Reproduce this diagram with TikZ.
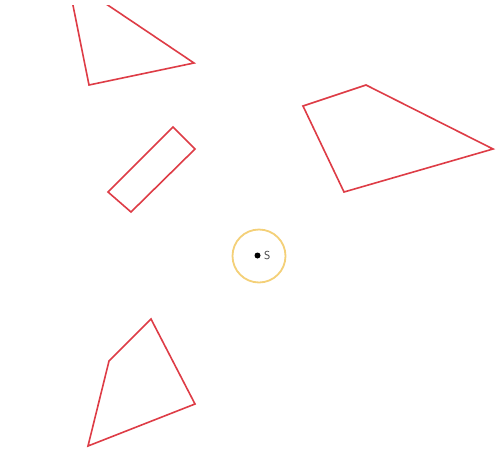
\documentclass[tikz,border=0pt]{standalone}
\usetikzlibrary{calc}
\definecolor{shapered}{RGB}{222,60,70}
\definecolor{ringyellow}{RGB}{244,208,120}
\definecolor{labelgray}{RGB}{60,60,60}
\tikzset{
  poly/.style={draw=shapered, line width=1.6pt, line join=miter},
  ring/.style={draw=ringyellow, line width=1.8pt},
  lab/.style={font=\sffamily\fontsize{11.5}{13}\selectfont, text=labelgray, inner sep=0pt}
}
\begin{document}
\begin{tikzpicture}[x=1pt,y=-1pt]
\useasboundingbox (0,0) rectangle (497,455);
\fill[white] (0,0) rectangle (497,455);
% top-left triangle (apex above the frame)
\coordinate (t1) at (67.5,-22);
\coordinate (t2) at (89,85);
\coordinate (t3) at (194,63);
\begin{scope}
\clip (0,5) rectangle (497,455);
\draw[poly] (t1) -- (t2) -- (t3) -- cycle;
\end{scope}
% rotated rectangle
\coordinate (r1) at (108,192);
\coordinate (r2) at (173,127);
\coordinate (r3) at (195,149);
\coordinate (r4) at (131,212);
\draw[poly] (r1) -- (r2) -- (r3) -- (r4) -- cycle;
% right quadrilateral
\coordinate (q1) at (303,106);
\coordinate (q2) at (366,85);
\coordinate (q3) at (493,149);
\coordinate (q4) at (344,192);
\draw[poly] (q1) -- (q2) -- (q3) -- (q4) -- cycle;
% bottom quadrilateral
\coordinate (b1) at (151,319);
\coordinate (b2) at (109,361);
\coordinate (b3) at (88,446);
\coordinate (b4) at (195,404);
\draw[poly] (b1) -- (b2) -- (b3) -- (b4) -- cycle;
% ring with point S
\node[ring, circle, minimum size=53pt, inner sep=0pt] (c) at (259,256) {};
\fill (257.5,255.5) circle (3pt) coordinate (s);
\node[lab, anchor=west] (sl) at (264,256) {S};
\end{tikzpicture}
\end{document}
